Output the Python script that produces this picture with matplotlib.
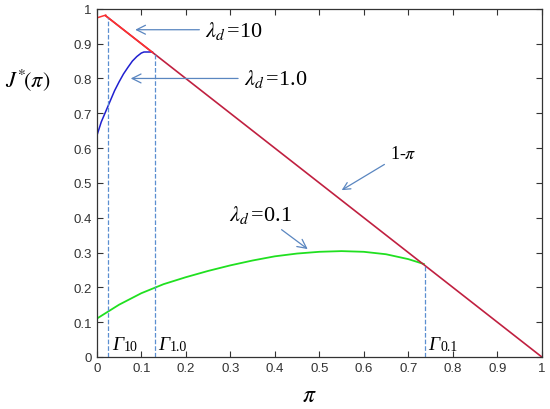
import numpy as np
import matplotlib.pyplot as plt

plt.rcParams['mathtext.fontset'] = 'stix'
plt.rcParams['font.family'] = 'Liberation Sans'

# lambda_d = 10 branch before the 1-pi line
pi10 = [0.0, 0.02]
J10 = [0.974, 0.982]

# lambda_d = 1.0 branch
pi1 = [0.0, 0.01, 0.02, 0.03, 0.04, 0.05, 0.06, 0.07, 0.08, 0.09, 0.1, 0.106, 0.125]
J1 = [0.635, 0.675, 0.705, 0.735, 0.765, 0.79, 0.813, 0.832, 0.85, 0.863, 0.873, 0.876, 0.876]

# lambda_d = 0.1 branch
pi01 = [0.0, 0.025, 0.05, 0.1, 0.15, 0.2, 0.25, 0.3, 0.35, 0.4, 0.45, 0.5, 0.55,
        0.6, 0.65, 0.7, 0.735]
J01 = [0.11, 0.13, 0.15, 0.183, 0.209, 0.229, 0.247, 0.263, 0.277, 0.289, 0.297, 0.302, 0.304,
       0.302, 0.295, 0.281, 0.267]

# thresholds Gamma
gam_x = [0.026, 0.13, 0.737]
gam_top = [0.975, 0.87, 0.263]
gam_sub = ['10', '1.0', '0.1']

line_x = np.array([0.02, 1.0])

fig = plt.figure(figsize=(5.5, 4.1), dpi=100)
ax = fig.add_axes([0.176, 0.127, 0.809, 0.849])

ax.plot(pi10, J10, color='#ff3030', lw=1.1)
ax.plot(pi1, J1, color='#2020d0', lw=1.1)
ax.plot(pi01, J01, color='#20e020', lw=1.3)
ax.plot(line_x, 1 - line_x, color='#c02040', lw=1.2)
ax.plot([0.02, 0.125], [0.98, 0.875], color='#ff3030', lw=1.1)

for gx, gt, gs in zip(gam_x, gam_top, gam_sub):
    ax.plot([gx, gx], [0, gt], ls='--', color='#5b8fd0', lw=0.9)
    g = ax.text(gx + 0.008, 0.012, 'Γ', fontsize=14, style='italic',
                family='Liberation Serif', va='bottom', ha='left')
    ax.annotate(gs, xy=(1, 0), xycoords=g, xytext=(0.5, 0), textcoords='offset points',
                fontsize=10, family='Liberation Serif', va='bottom', ha='left')

arr = dict(arrowstyle='->', color='#5a86c0', lw=0.9)
ax.annotate(r'$\lambda_d\,$=10', xy=(0.08, 0.94), xytext=(0.243, 0.94),
            fontsize=16, va='center', arrowprops=arr, family='Liberation Serif')
ax.annotate(r'$\lambda_d\,$=1.0', xy=(0.07, 0.80), xytext=(0.33, 0.80),
            fontsize=16, va='center', arrowprops=arr, family='Liberation Serif')
ax.annotate(r'1-$\pi$', xy=(0.545, 0.475), xytext=(0.658, 0.585),
            fontsize=13, va='center', arrowprops=arr, family='Liberation Serif')
ax.annotate(r'$\lambda_d\,$=0.1', xy=(0.479, 0.305), xytext=(0.298, 0.41),
            fontsize=16, va='center', arrowprops=arr, family='Liberation Serif')

ax.set_xlim(0, 1)
ax.set_ylim(0, 1)
ax.set_xticks(np.arange(0, 1.01, 0.1))
ax.set_yticks(np.arange(0, 1.01, 0.1))
ax.set_xticklabels(['0', '0.1', '0.2', '0.3', '0.4', '0.5', '0.6', '0.7', '0.8', '0.9', '1'])
ax.set_yticklabels(['0', '0.1', '0.2', '0.3', '0.4', '0.5', '0.6', '0.7', '0.8', '0.9', '1'])
ax.tick_params(direction='in', top=True, right=True, labelsize=9.5, colors='#333333',
               length=4, width=0.8)
for s in ax.spines.values():
    s.set_color('#333333')
    s.set_linewidth(0.9)

fig.text(0.05, 0.805, r'$J^{*}\!(\pi)$', fontsize=16, ha='center', va='center')
fig.text(0.562, 0.035, r'$\pi$', fontsize=17, ha='center', va='center')

fig.savefig('out.png', dpi=100)
